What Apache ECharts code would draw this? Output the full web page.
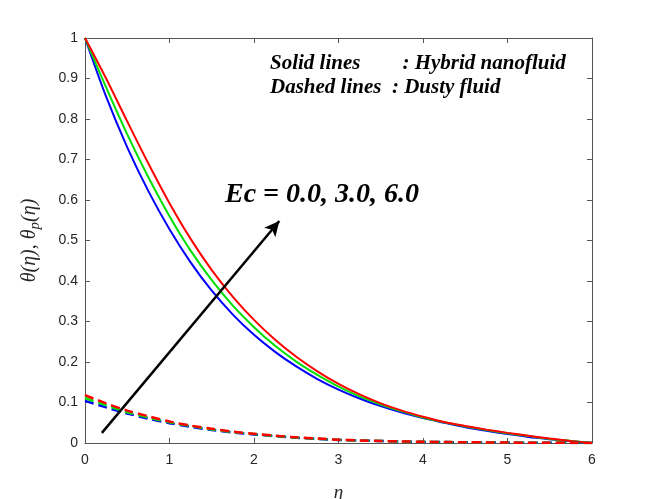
<!DOCTYPE html>
<html>
<head>
<meta charset="utf-8">
<title>theta profiles</title>
<script src="https://cdn.jsdelivr.net/npm/echarts@6/dist/echarts.min.js"></script>
<style>
  html, body { margin: 0; padding: 0; background: #fff; }
  #chart { width: 655px; height: 499px; }
</style>
</head>
<body>
<div id="chart"></div>
<script>
// eta grid (step 0.25)
var eta = [0, 0.25, 0.5, 0.75, 1, 1.25, 1.5, 1.75, 2, 2.25, 2.5, 2.75, 3,
           3.25, 3.5, 3.75, 4, 4.25, 4.5, 4.75, 5, 5.25, 5.5, 5.75, 6];

// solid lines : hybrid nanofluid theta(eta)
var solidEc0 = [1.0, 0.855, 0.730, 0.622, 0.528, 0.446, 0.376, 0.317, 0.267, 0.225, 0.189, 0.158, 0.132,
                0.110, 0.091, 0.075, 0.0615, 0.050, 0.039, 0.030, 0.022, 0.015, 0.0095, 0.0045, 0.0];
var solidEc3 = [1.0, 0.878, 0.762, 0.656, 0.560, 0.475, 0.402, 0.339, 0.286, 0.240, 0.201, 0.168, 0.139,
                0.115, 0.095, 0.078, 0.063, 0.051, 0.041, 0.032, 0.024, 0.017, 0.010, 0.005, 0.0];
var solidEc6 = [1.0, 0.900, 0.794, 0.690, 0.592, 0.504, 0.427, 0.361, 0.304, 0.255, 0.213, 0.177, 0.146,
                0.120, 0.098, 0.080, 0.065, 0.052, 0.042, 0.033, 0.025, 0.018, 0.011, 0.005, 0.0];

// dashed lines : dusty fluid theta_p(eta)
var dustyEc0 = [0.104, 0.088, 0.073, 0.060, 0.049, 0.040, 0.032, 0.026, 0.021, 0.017, 0.013, 0.010, 0.0075,
                0.006, 0.0048, 0.0037, 0.0028, 0.0023, 0.0018, 0.0014, 0.001, 0.0008, 0.0005, 0.0003, 0.0];
var dustyEc3 = [0.111, 0.093, 0.076, 0.063, 0.051, 0.042, 0.0335, 0.027, 0.022, 0.0175, 0.0135, 0.0105, 0.0078,
                0.0062, 0.0049, 0.0038, 0.0029, 0.0023, 0.0018, 0.0014, 0.001, 0.0008, 0.0005, 0.0003, 0.0];
var dustyEc6 = [0.118, 0.098, 0.080, 0.066, 0.053, 0.043, 0.035, 0.028, 0.023, 0.018, 0.014, 0.011, 0.008,
                0.0064, 0.005, 0.0039, 0.003, 0.0024, 0.0019, 0.0015, 0.001, 0.0008, 0.0005, 0.0003, 0.0];

var lineColors = ['#0000ff', '#00e000', '#ff0000'];

// arrow annotation (data coords)
var arrowStart = [0.2, 0.025];
var arrowEnd = [2.3, 0.548];

function pairs(ys) {
    var out = [];
    for (var i = 0; i < eta.length; i++) {
        out.push([eta[i], ys[i]]);
    }
    return out;
}

function solid(name, ys, color) {
    return {
        name: name,
        type: 'line',
        data: pairs(ys),
        smooth: 0.3,
        symbol: 'none',
        lineStyle: { color: color, width: 2 },
        z: 3
    };
}

function dashed(name, ys, color) {
    return {
        name: name,
        type: 'line',
        data: pairs(ys),
        smooth: 0.3,
        symbol: 'none',
        lineStyle: { color: color, width: 2.5, type: [9, 5] },
        z: 4
    };
}

var chart = echarts.init(document.getElementById('chart'));

var axisColor = '#555555';
var labelFont = { color: '#262626', fontSize: 14, fontFamily: 'Liberation Sans, Arial, sans-serif' };

var series = [
    solid('Ec=0.0', solidEc0, lineColors[0]),
    solid('Ec=3.0', solidEc3, lineColors[1]),
    solid('Ec=6.0', solidEc6, lineColors[2]),
    dashed('Ec=0.0 dusty', dustyEc0, lineColors[0]),
    dashed('Ec=3.0 dusty', dustyEc3, lineColors[1]),
    dashed('Ec=6.0 dusty', dustyEc6, lineColors[2])
];

// arrow as markLine on first series
series[0].markLine = {
    silent: true,
    symbol: ['none', 'arrow'],
    symbolSize: [11, 15],
    label: { show: false },
    lineStyle: { color: '#000', width: 2.5, type: 'solid' },
    data: [[{ coord: arrowStart }, { coord: arrowEnd }]],
    animation: false
};

chart.setOption({
    animation: false,
    backgroundColor: '#ffffff',
    grid: { left: 85, right: 63, top: 38, bottom: 56, containLabel: false, outerBoundsMode: 'none' },
    xAxis: [
        {
            type: 'value',
            min: 0, max: 6, interval: 1,
            name: 'η',
            nameLocation: 'middle',
            nameGap: 40,
            nameTextStyle: { fontFamily: 'Liberation Serif, serif', fontStyle: 'italic', fontSize: 19, color: '#262626' },
            axisLine: { show: true, onZero: false, lineStyle: { color: axisColor, width: 1 } },
            axisTick: { show: true, inside: true, length: 5, lineStyle: { color: axisColor } },
            axisLabel: Object.assign({ margin: 10 }, labelFont),
            splitLine: { show: false }
        },
        {
            type: 'value',
            position: 'top',
            min: 0, max: 6, interval: 1,
            axisLine: { show: true, onZero: false, lineStyle: { color: axisColor, width: 1 } },
            axisTick: { show: true, inside: true, length: 5, lineStyle: { color: axisColor } },
            axisLabel: { show: false },
            splitLine: { show: false }
        }
    ],
    yAxis: [
        {
            type: 'value',
            min: 0, max: 1, interval: 0.1,
            name: '{i|θ(η), θ}{s|p}{i|(η)}',
            nameLocation: 'middle',
            nameGap: 42,
            nameTextStyle: {
                rich: {
                    i: { fontFamily: 'Liberation Serif, serif', fontStyle: 'italic', fontSize: 20, color: '#262626' },
                    s: { fontFamily: 'Liberation Serif, serif', fontStyle: 'italic', fontSize: 15, color: '#262626', padding: [12, 0, 0, 0] }
                }
            },
            axisLine: { show: true, onZero: false, lineStyle: { color: axisColor, width: 1 } },
            axisTick: { show: true, inside: true, length: 5, lineStyle: { color: axisColor } },
            axisLabel: Object.assign({ margin: 7 }, labelFont),
            splitLine: { show: false }
        },
        {
            type: 'value',
            position: 'right',
            min: 0, max: 1, interval: 0.1,
            axisLine: { show: true, onZero: false, lineStyle: { color: axisColor, width: 1 } },
            axisTick: { show: true, inside: true, length: 5, lineStyle: { color: axisColor } },
            axisLabel: { show: false },
            splitLine: { show: false }
        }
    ],
    graphic: [
        {
            type: 'text', left: 270, top: 53,
            style: {
                text: 'Solid lines        : Hybrid nanofluid',
                font: 'italic bold 21px "Liberation Serif", serif',
                fill: '#000'
            }
        },
        {
            type: 'text', left: 270, top: 77,
            style: {
                text: 'Dashed lines  : Dusty fluid',
                font: 'italic bold 21px "Liberation Serif", serif',
                fill: '#000'
            }
        },
        {
            type: 'text', left: 225, top: 181,
            style: {
                text: 'Ec = 0.0, 3.0, 6.0',
                font: 'italic bold 28px "Liberation Serif", serif',
                fill: '#000'
            }
        }
    ],
    series: series
});
</script>
</body>
</html>
